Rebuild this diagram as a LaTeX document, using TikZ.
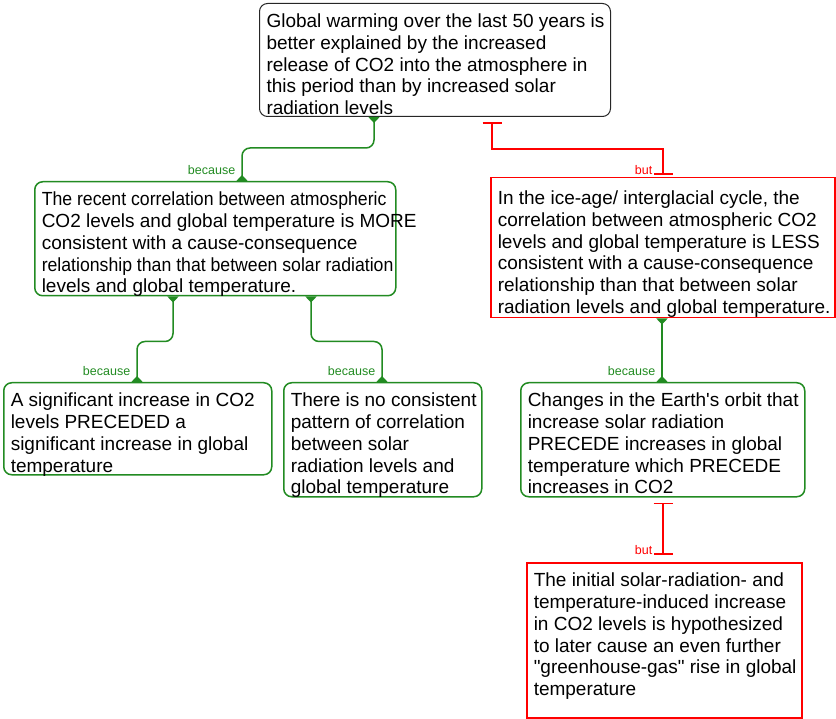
\documentclass[tikz,border=0pt]{standalone}
\usepackage{fontspec}
\setmainfont{Liberation Sans}
\newfontfamily\stretto[FakeStretch=0.93]{Liberation Sans}
\usetikzlibrary{arrows.meta}
\definecolor{verde}{RGB}{34,139,34}
%testo del riquadro: larghezza, altezza, righe
\newcommand{\testo}[3]{\parbox[t][#2][t]{#1}{\begin{tabular}[t]{@{}l@{}}#3\end{tabular}}}
\tikzset{
  fillet/.tip={Triangle[reversed,width=11pt,length=6pt]},
  barra/.tip={Bar[width=19pt,line width=1.8pt]},
  tesi/.style={draw=black!85, line width=1pt, rounded corners=8pt, anchor=north west,
    inner xsep=7pt, inner ysep=9pt, font=\fontsize{19}{21.7}\selectfont},
  perche/.style={tesi, draw=verde, line width=1.5pt},
  obiezione/.style={tesi, draw=red, line width=1.5pt, sharp corners},
  percheline/.style={draw=verde, line width=1.5pt, rounded corners=8pt, arrows=fillet-fillet},
  butline/.style={draw=red, line width=1.5pt, arrows=barra-barra},
  perchelab/.style={text=verde, font=\fontsize{12.5}{14}\selectfont, anchor=south east,
    inner sep=0pt, xshift=-6pt, yshift=6pt},
  butlab/.style={text=red, font=\fontsize{12.5}{14}\selectfont, anchor=south east,
    inner sep=0pt, xshift=-10pt}
}
\begin{document}
\begin{tikzpicture}[x=1pt,y=-1pt]
    \useasboundingbox (0,0) rectangle (836,719);
    %riquadro principale
    \node[tesi] (root) at (259,3) {\testo{337pt}{95pt}{Global warming over the last 50 years is\\
        better explained by the increased\\ release of CO2 into the atmosphere in\\
        this period than by increased solar\\ radiation levels}};
    %primo livello
    \node[perche] (ca) at (34,181) {\testo{347pt}{96pt}{{\stretto The recent correlation between atmospheric}\\
        CO2 levels and global temperature is MORE\\ consistent with a cause-consequence\\
        {\stretto relationship than that between solar radiation}\\ levels and global temperature.}};
    \node[obiezione] (cb) at (490,177) {\testo{330pt}{122pt}{\rule{0pt}{18pt}In the ice-age/ interglacial cycle, the\\
        correlation between atmospheric CO2\\ levels and global temperature is LESS\\
        consistent with a cause-consequence\\ relationship than that between solar\\
        radiation levels and global temperature.}};
    %secondo livello
    \node[perche] (a1) at (3,382) {\testo{254pt}{74pt}{A significant increase in CO2\\
        levels PRECEDED a\\ significant increase in global\\ temperature}};
    \node[perche] (a2) at (283,382) {\testo{184pt}{96pt}{There is no consistent\\
        pattern of correlation\\ between solar\\ radiation levels and\\ global temperature}};
    \node[perche] (b1) at (520,382) {\testo{270pt}{96pt}{Changes in the Earth\textquotesingle s orbit that\\
        increase solar radiation\\ PRECEDE increases in global\\ temperature which PRECEDE\\
        increases in CO2}};
    %terzo livello
    \node[obiezione] (b1b) at (526,562) {\testo{261pt}{137pt}{The initial solar-radiation- and\\
        temperature-induced increase\\ in CO2 levels is hypothesized\\ to later cause an even further\\
        \textquotedbl greenhouse-gas\textquotedbl{} rise in global\\ temperature}};
    %collegamenti
    \draw[percheline] ([xshift=115pt]root.south west) -- ++(0,31) -| ([xshift=208pt]ca.north west)
        node[pos=1, perchelab]{because};
    \draw[butline, shorten <=5pt, shorten >=2pt] ([xshift=233pt]root.south west) -- ++(0,32)
        -| ([xshift=173pt]cb.north west) node[pos=1, butlab, yshift=2pt]{but};
    \draw[percheline] ([xshift=139pt]ca.south west) -- ++(0,45) -| ([xshift=134pt]a1.north west)
        node[pos=1, perchelab]{because};
    \draw[percheline] ([xshift=277pt]ca.south west) -- ++(0,45) -| ([xshift=99pt]a2.north west)
        node[pos=1, perchelab]{because};
    \draw[percheline] ([xshift=172pt]cb.south west) -- ([xshift=142pt]b1.north west)
        node[pos=1, perchelab]{because};
    \draw[butline, shorten <=5pt, shorten >=7pt] ([xshift=143pt]b1.south west)
        -- ([xshift=137pt]b1b.north west) node[pos=1, butlab, yshift=7pt]{but};
\end{tikzpicture}
\end{document}
